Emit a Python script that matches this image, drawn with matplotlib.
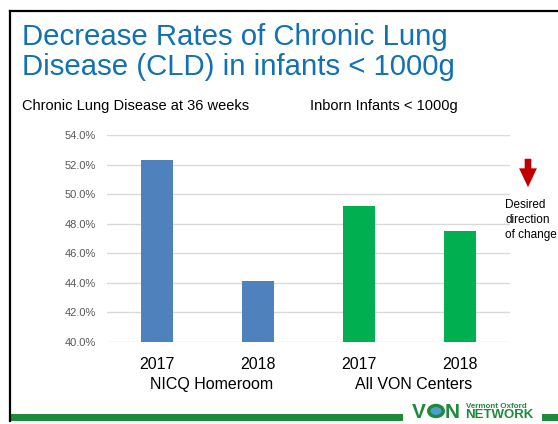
import matplotlib.pyplot as plt
from matplotlib.patches import FancyArrowPatch, Rectangle, Circle
from matplotlib.lines import Line2D

plt.rcParams['font.family'] = ['Liberation Sans', 'DejaVu Sans']

# Data
years = ['2017', '2018', '2017', '2018']
groups = ['NICQ Homeroom', 'All VON Centers']
cld_rate = [52.3, 44.1, 49.2, 47.5]
bar_colors = ['#4f81bd', '#4f81bd', '#00b050', '#00b050']
yticks = [40, 42, 44, 46, 48, 50, 52, 54]

W, H = 558, 424
fig = plt.figure(figsize=(W / 100, H / 100), dpi=100)

def px(x, y):
    return x / W, 1 - y / H

# Slide frame: black line top + left, green footer bar
fig.add_artist(Line2D([9.5 / W, 1], [1 - 10.5 / H] * 2, color='black', lw=1.6))
fig.add_artist(Line2D([9.5 / W] * 2, [1 - 10.5 / H, 1 - 421 / H], color='black', lw=1.6))
fig.add_artist(Rectangle(px(10, 421), (403 - 10) / W, 7 / H, color='#1f8a3c', lw=0))
fig.add_artist(Rectangle(px(542, 421), (558 - 542) / W, 7 / H, color='#1f8a3c', lw=0))

# Title
title_color = '#1271b2'
fig.text(*px(22, 45), 'Decrease Rates of Chronic Lung', fontsize=21.2,
         color=title_color, ha='left', va='baseline')
fig.text(*px(22, 75), 'Disease (CLD) in infants < 1000g', fontsize=21.2,
         color=title_color, ha='left', va='baseline')

# Subheaders
fig.text(*px(22, 110), 'Chronic Lung Disease at 36 weeks', fontsize=10.5,
         ha='left', va='baseline')
fig.text(*px(310, 110), 'Inborn Infants < 1000g', fontsize=10.5,
         ha='left', va='baseline')

# Chart
ax = fig.add_axes([107 / W, 1 - 342 / H, (510 - 107) / W, (342 - 135) / H])
x = list(range(len(years)))
ax.bar(x, [v - 40 for v in cld_rate], bottom=40, width=0.32,
       color=bar_colors, zorder=3)
ax.set_xlim(-0.5, len(years) - 0.5)
ax.set_ylim(yticks[0], yticks[-1])
ax.set_yticks(yticks)
ax.set_yticklabels([f'{t:.1f}%' for t in yticks], fontsize=8, color='#595959')
ax.yaxis.grid(True, color='#d9d9d9', lw=1)
ax.set_axisbelow(True)
ax.tick_params(axis='y', length=0, pad=8)
ax.set_xticks([])
for s in ax.spines.values():
    s.set_visible(False)

# Category labels
for i, yr in enumerate(years):
    ax.text(i, -0.11, yr, transform=ax.get_xaxis_transform(), fontsize=11.5,
            ha='center', va='center')
for j, g in enumerate(groups):
    ax.text(2 * j + 0.54, -0.205, g, transform=ax.get_xaxis_transform(),
            fontsize=11.5, ha='center', va='center')

# Desired direction arrow
fig.add_artist(FancyArrowPatch(px(528, 156), px(528, 190),
                               arrowstyle='simple,head_length=0.85,head_width=0.8,tail_width=0.3',
                               mutation_scale=16, color='#c00000', lw=0))
for k, line in enumerate(['Desired', 'direction', 'of change']):
    fig.text(*px(505, 205 + 15 * k), line, fontsize=8.5, ha='left', va='center')

# VON logo
green = '#1f8a3c'
fig.text(*px(412, 418), 'V', fontsize=15, fontweight='bold', color=green,
         ha='left', va='baseline')
fig.add_artist(Circle(px(436, 411), 7.3 / W, transform=fig.transFigure,
                      facecolor='#4a9fd0', edgecolor=green, lw=2.4))
fig.text(*px(445, 418), 'N', fontsize=15, fontweight='bold', color=green,
         ha='left', va='baseline')
fig.text(*px(466, 408), 'Vermont Oxford', fontsize=5.8, fontweight='bold',
         color=green, ha='left', va='baseline')
fig.text(*px(465, 418), 'NETWORK', fontsize=9.5, fontweight='bold',
         color=green, ha='left', va='baseline')

fig.savefig('out.png', dpi=100, facecolor='white')
